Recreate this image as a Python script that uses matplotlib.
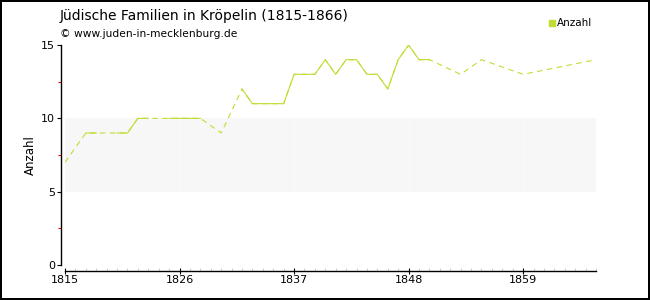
import numpy as np
import matplotlib.pyplot as plt
from matplotlib.ticker import MultipleLocator, FixedLocator

# Jahre und Anzahl jüdischer Familien (NaN = kein Wert)
years = np.arange(1815, 1867)
counts = [7, np.nan, 9, 9, np.nan, 9, 9, 10, 10, np.nan,
          10, 10, 10, 10, np.nan, 9, np.nan, 12, 11, 11,
          11, 11, 13, 13, 13, 14, 13, 14, 14, 13,
          13, 12, 14, 15, 14, 14, np.nan, np.nan, 13, np.nan,
          14, np.nan, np.nan, np.nan, 13, np.nan, np.nan, np.nan, np.nan, np.nan,
          np.nan, 14]
counts = np.array(counts, dtype=float)

title = "Jüdische Familien in Kröpelin (1815-1866)"
subtitle = "© www.juden-in-mecklenburg.de"
series_name = "Anzahl"
line_color = "#c3dc34"

fig = plt.figure(figsize=(6.5, 3), dpi=100, edgecolor="black", linewidth=1.5)
ax = fig.add_axes([65 / 650, 35 / 300, 531 / 650, 220 / 300])

# Hintergrundband zwischen 5 und 10
ax.axhspan(5, 10, color="#f7f7f7", zorder=0, lw=0)
for x in [1826, 1837, 1848, 1859]:
    ax.plot([x, x], [5, 10], color="#fbfbfb", lw=0.7, zorder=0.5)

# Lücken gestrichelt verbinden, vorhandene Folgejahre durchgezogen
ok = ~np.isnan(counts)
ax.plot(years[ok], counts[ok], color=line_color, lw=0.8, dashes=(5, 4), zorder=2)
ax.plot(years, counts, color=line_color, lw=0.8, zorder=3)

ax.set_xlim(1815, 1866)
ax.set_ylim(0, 15)

for side in ["top", "right"]:
    ax.spines[side].set_visible(False)
ax.spines["left"].set_position(("outward", 3))
ax.spines["bottom"].set_position(("outward", 4))
ax.spines["left"].set_linewidth(1)
ax.spines["bottom"].set_linewidth(1)

ax.xaxis.set_major_locator(FixedLocator([1815, 1826, 1837, 1848, 1859]))
ax.xaxis.set_minor_locator(MultipleLocator(1))
ax.yaxis.set_major_locator(MultipleLocator(5))
ax.yaxis.set_minor_locator(MultipleLocator(2.5))

ax.tick_params(axis="x", which="major", direction="inout", length=5, width=0.8,
               labelsize=8, pad=1)
ax.tick_params(axis="x", which="minor", direction="in", length=2.5, width=0.6,
               color="#c8c8c8")
ax.tick_params(axis="y", which="major", direction="out", length=3, width=0.8,
               labelsize=8, pad=1)
ax.tick_params(axis="y", which="minor", direction="out", length=2.5, width=0.8,
               color="red")

ax.set_ylabel(series_name, fontsize=8.5, labelpad=3.5)

fig.text(60 / 650, 1 - 16 / 300, title, fontsize=10, va="center", ha="left")
fig.text(60 / 650, 1 - 34 / 300, subtitle, fontsize=7.7, va="center", ha="left")

# Legende oben rechts
fig.patches.append(plt.Rectangle((549 / 650, 1 - 26 / 300), 6 / 650, 6 / 300,
                                 transform=fig.transFigure, color=line_color))
fig.text(557 / 650, 1 - 23 / 300, series_name, fontsize=7.5, va="center", ha="left")

fig.savefig("out.png", dpi=100)
